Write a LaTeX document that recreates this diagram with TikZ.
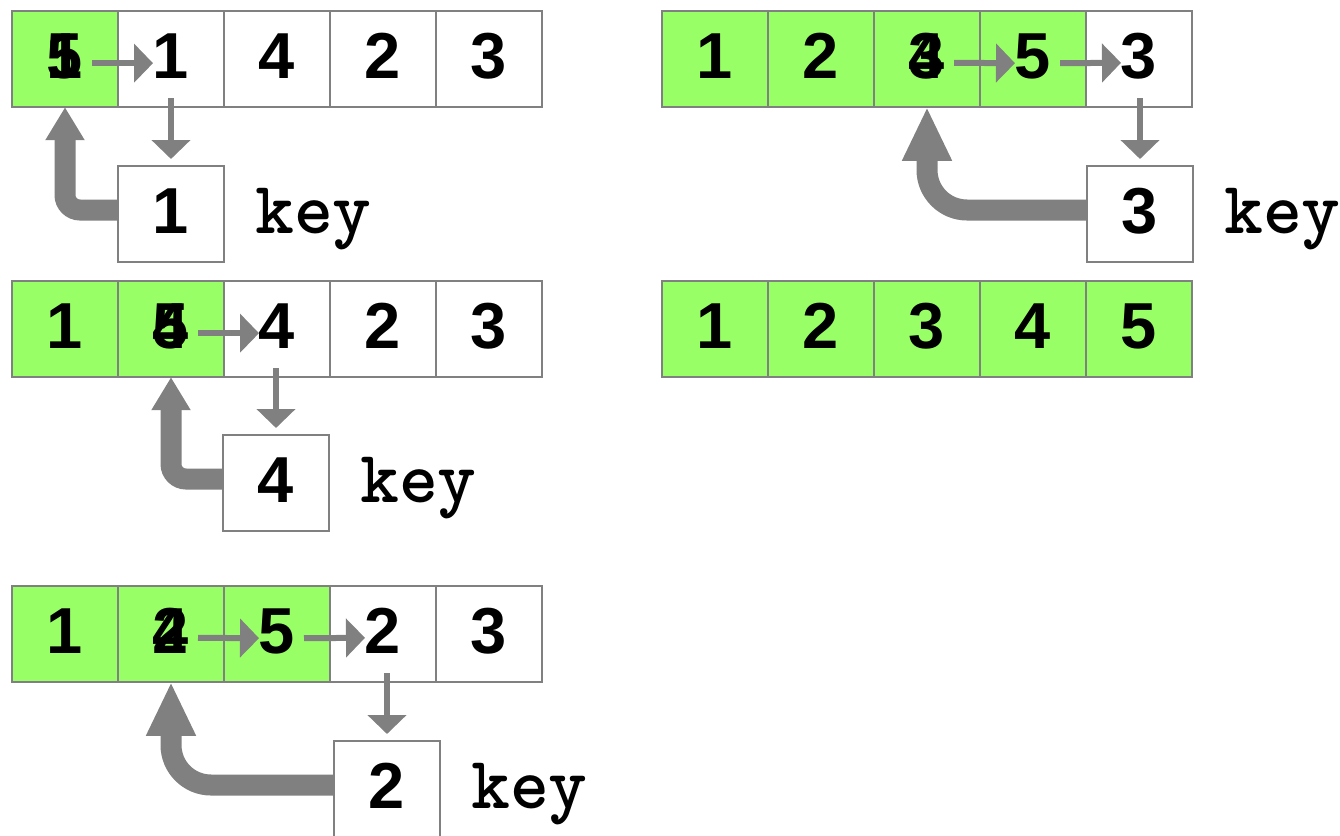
\documentclass[tikz,border=0pt]{standalone}
\usepackage{fontspec}
\setmainfont{Liberation Sans}
\newfontfamily\keyfont{lmmonolt10-bold.otf}
\usetikzlibrary{matrix}
\usetikzlibrary{arrows.meta}
\usetikzlibrary{positioning}
\usetikzlibrary{calc}

\definecolor{donegreen}{RGB}{153,255,102}
\definecolor{linegray}{RGB}{128,128,128}

% two digits printed on top of each other
\newcommand{\ovl}[2]{\makebox[0pt]{#1}\makebox[0pt]{#2}}

\tikzset{
  cell/.style={draw=linegray, line width=2pt, fill=white, minimum width=106pt,
    minimum height=96pt, inner sep=0pt, outer sep=0pt, text depth=6pt,
    font=\fontsize{65}{70}\selectfont\bfseries},
  done/.style={fill=donegreen},
  arr/.style={matrix of nodes, nodes={cell}, column sep=-2pt, inner sep=0pt},
  keylabel/.style={inner sep=0pt, anchor=base west,
    font=\keyfont\fontsize{74}{80}\selectfont},
  shift arrow/.style={draw=linegray, line width=6pt,
    -{Triangle[width=38pt,length=19pt]}, color=linegray},
  back arrow/.style={draw=linegray, line width=21pt, rounded corners=15pt,
    -{Triangle[width=37pt,length=33pt]}, color=linegray},
  long back arrow/.style={back arrow, rounded corners=40pt,
    -{Triangle[width=46pt,length=54pt]}},
}

\begin{document}
\begin{tikzpicture}[x=1pt,y=-1pt]
  \useasboundingbox (0,0) rectangle (1340,835);

  % pass 1
  \matrix (s1) at (277,59) [arr] {
    |[done]| \ovl{5}{1} & 1 & 4 & 2 & 3 \\};
  \node[cell] (k1) at (171,214) {1};
  \node[keylabel] (l1) at ($(k1.east)+(31,19)$) {key};
  \draw[shift arrow] ($(s1-1-1.center)+(27,4)$) -- ($(s1-1-2.center)+(-18,4)$);
  \draw[shift arrow] ($(k1.north |- s1.south)+(0,-10)$) -- ($(k1.north)+(0,-7)$);
  \draw[back arrow] ($(k1.west)+(0,-4)$) -| (s1-1-1.south);

  % pass 2
  \matrix (s2) at (277,329) [arr] {
    |[done]| 1 & |[done]| \ovl{5}{4} & 4 & 2 & 3 \\};
  \node[cell] (k2) at (276,483) {4};
  \node[keylabel] (l2) at ($(k2.east)+(31,19)$) {key};
  \draw[shift arrow] ($(s2-1-2.center)+(27,4)$) -- ($(s2-1-3.center)+(-18,4)$);
  \draw[shift arrow] ($(k2.north |- s2.south)+(0,-10)$) -- ($(k2.north)+(0,-7)$);
  \draw[back arrow] ($(k2.west)+(0,-4)$) -| (s2-1-2.south);

  % pass 3
  \matrix (s3) at (277,634) [arr] {
    |[done]| 1 & |[done]| \ovl{4}{2} & |[done]| 5 & 2 & 3 \\};
  \node[cell] (k3) at (387,789) {2};
  \node[keylabel] (l3) at ($(k3.east)+(31,19)$) {key};
  \draw[shift arrow] ($(s3-1-2.center)+(27,4)$) -- ($(s3-1-3.center)+(-18,4)$);
  \draw[shift arrow] ($(s3-1-3.center)+(27,4)$) -- ($(s3-1-4.center)+(-18,4)$);
  \draw[shift arrow] ($(k3.north |- s3.south)+(0,-10)$) -- ($(k3.north)+(0,-7)$);
  \draw[long back arrow] ($(k3.west)+(0,-4)$) -| (s3-1-2.south);

  % pass 4
  \matrix (s4) at (927,59) [arr] {
    |[done]| 1 & |[done]| 2 & |[done]| \ovl{4}{3} & |[done]| 5 & 3 \\};
  \node[cell] (k4) at (1140,214) {3};
  \node[keylabel] (l4) at ($(k4.east)+(31,19)$) {key};
  \draw[shift arrow] ($(s4-1-3.center)+(27,4)$) -- ($(s4-1-4.center)+(-18,4)$);
  \draw[shift arrow] ($(s4-1-4.center)+(27,4)$) -- ($(s4-1-5.center)+(-18,4)$);
  \draw[shift arrow] ($(k4.north |- s4.south)+(0,-10)$) -- ($(k4.north)+(0,-7)$);
  \draw[long back arrow] ($(k4.west)+(0,-4)$) -| (s4-1-3.south);

  % sorted
  \matrix (fin) at (927,329) [arr] {
    |[done]| 1 & |[done]| 2 & |[done]| 3 & |[done]| 4 & |[done]| 5 \\};
\end{tikzpicture}
\end{document}
